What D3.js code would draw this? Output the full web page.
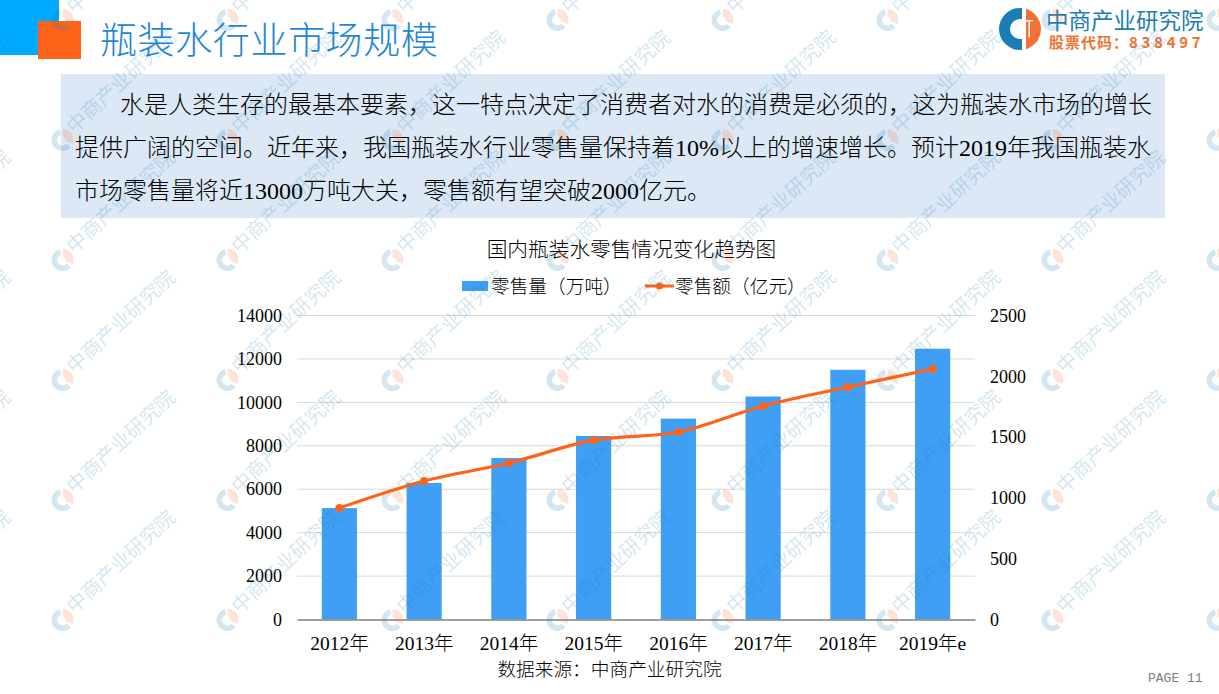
<!DOCTYPE html>
<html>
<head>
<meta charset="utf-8">
<script src="https://cdn.jsdelivr.net/npm/d3@7"></script>
<style>
  html, body { margin: 0; padding: 0; background: #fff; }
  svg { display: block; }
  text { font-family: "Liberation Serif", "Noto Sans CJK SC", serif; font-weight: 300; fill: #000; }
</style>
</head>
<body>
<svg id="chart" width="1219" height="694"></svg>
<script>
const years = ["2012年", "2013年", "2014年", "2015年", "2016年", "2017年", "2018年", "2019年e"];
const volume = [5130, 6290, 7440, 8450, 9250, 10270, 11500, 12470];
const revenue = [917, 1139, 1287, 1475, 1542, 1756, 1912, 2060];
const volumeTicks = [0, 2000, 4000, 6000, 8000, 10000, 12000, 14000];
const revenueTicks = [0, 500, 1000, 1500, 2000, 2500];
const paragraph = [
  "水是人类生存的最基本要素，这一特点决定了消费者对水的消费是必须的，这为瓶装水市场的增长",
  "提供广阔的空间。近年来，我国瓶装水行业零售量保持着10%以上的增速增长。预计2019年我国瓶装水",
  "市场零售量将近13000万吨大关，零售额有望突破2000亿元。"
];

const svg = d3.select("#chart");

// page furniture
svg.append("rect").attr("x", 0).attr("y", 0).attr("width", 59).attr("height", 55).attr("fill", "#00aaff");
svg.append("rect").attr("x", 38).attr("y", 21).attr("width", 43).attr("height", 38).attr("fill", "#ff6319");
svg.append("text").attr("x", 100).attr("y", 54).attr("font-size", 37).style("letter-spacing", "0.6px")
  .style("fill", "#1f86d8").text("瓶装水行业市场规模");

svg.append("rect").attr("x", 61).attr("y", 74).attr("width", 1104).attr("height", 144).attr("fill", "#dce8f5");
svg.selectAll(".para").data(paragraph).join("text")
  .attr("class", "para")
  .attr("x", (d, i) => i === 0 ? 120 : 75)
  .attr("y", (d, i) => 113 + i * 43)
  .attr("font-size", 24)
  .each(function (d) {
    // digits come out too heavy at weight 300, so they get their own tspans
    d.match(/[0-9%]+|[^0-9%]+/g).forEach(run => {
      d3.select(this).append("tspan")
        .style("font-weight", /[0-9]/.test(run) ? 400 : 300)
        .text(run);
    });
  });

// company logo, top right
const arc = d3.arc();
const defs = svg.append("defs");
defs.append("clipPath").attr("id", "logoRight")
  .append("rect").attr("x", 6).attr("y", -21).attr("width", 16).attr("height", 42);
const logo = svg.append("g").attr("transform", "translate(1020,29)");
logo.append("path").attr("fill", "#1b7db5")
  .attr("d", arc({ innerRadius: 10, outerRadius: 21, startAngle: Math.PI, endAngle: 2 * Math.PI }));
logo.append("rect").attr("x", 0).attr("y", -21).attr("width", 2).attr("height", 11).attr("fill", "#1b7db5");
logo.append("rect").attr("x", 0).attr("y", 10).attr("width", 2).attr("height", 11).attr("fill", "#1b7db5");
logo.append("path").attr("fill", "#f27234").attr("clip-path", "url(#logoRight)")
  .attr("d", arc({ innerRadius: 0, outerRadius: 21, startAngle: 0, endAngle: Math.PI }));
logo.append("rect").attr("x", 6).attr("y", -9).attr("width", 7).attr("height", 1.5).attr("fill", "#fff");
logo.append("rect").attr("x", 8.5).attr("y", -7.5).attr("width", 1.5).attr("height", 16).attr("fill", "#fff");
svg.append("text").attr("x", 1046).attr("y", 29).attr("font-size", 22.5).style("fill", "#1b7db5")
  .style("font-family", "'Noto Sans CJK SC'").style("font-weight", 400).text("中商产业研究院");
const stock = svg.append("text").attr("x", 1049).attr("y", 48).attr("font-size", 15)
  .style("fill", "#f27234").style("font-weight", 700)
  .style("font-family", "'Noto Sans CJK SC'");
stock.append("tspan").style("letter-spacing", "1px").text("股票代码：");
stock.append("tspan").style("letter-spacing", "3.7px").text("838497");

// chart
const plotLeft = 297, plotRight = 975, plotTop = 315.5, plotBottom = 619.5;

const xScale = d3.scaleBand().domain(years).range([plotLeft, plotRight]).paddingInner(0.585).paddingOuter(0.2925);
const yLeft = d3.scaleLinear().domain([0, 14000]).range([plotBottom, plotTop]);
const yRight = d3.scaleLinear().domain([0, 2500]).range([plotBottom, plotTop]);

svg.append("text").attr("x", 631.5).attr("y", 257).attr("text-anchor", "middle").attr("font-size", 20.7)
  .text("国内瓶装水零售情况变化趋势图");

// gridlines
svg.append("g").selectAll("line").data(volumeTicks.slice(1)).join("line")
  .attr("x1", plotLeft).attr("x2", plotRight)
  .attr("y1", d => yLeft(d)).attr("y2", d => yLeft(d))
  .attr("stroke", "#d9d9d9").attr("stroke-width", 1);

// bars
svg.append("g").selectAll("rect").data(volume).join("rect")
  .attr("x", (d, i) => xScale(years[i]))
  .attr("y", d => yLeft(d))
  .attr("width", xScale.bandwidth())
  .attr("height", d => plotBottom - yLeft(d))
  .attr("fill", "#3f9ff5");

// axes
const axisLeft = svg.append("g").attr("transform", `translate(${plotLeft - 15},0)`)
  .call(d3.axisLeft(yLeft).tickValues(volumeTicks).tickSize(0).tickPadding(0).tickFormat(d3.format("d")));
const axisRight = svg.append("g").attr("transform", `translate(${plotRight + 15},0)`)
  .call(d3.axisRight(yRight).tickValues(revenueTicks).tickSize(0).tickPadding(0).tickFormat(d3.format("d")));
const axisBottom = svg.append("g").attr("transform", `translate(0,${plotBottom})`)
  .call(d3.axisBottom(xScale).tickSize(0).tickPadding(17));
[axisLeft, axisRight, axisBottom].forEach(a => {
  a.selectAll("text").attr("font-size", 18).style("font-family", "'Liberation Serif','Noto Sans CJK SC',serif");
});
axisBottom.selectAll("text").attr("font-size", 19.5);
axisLeft.select(".domain").remove();
axisRight.select(".domain").remove();
axisBottom.select(".domain").attr("stroke", "#808080").attr("stroke-width", 1.5);

// legend
const legend = svg.append("g");
legend.append("rect").attr("x", 462).attr("y", 281).attr("width", 26).attr("height", 10).attr("fill", "#3f9ff5");
legend.append("text").attr("x", 491).attr("y", 293).attr("font-size", 18.7).text("零售量（万吨）");
legend.append("line").attr("x1", 645).attr("x2", 674).attr("y1", 286).attr("y2", 286)
  .attr("stroke", "#ff6319").attr("stroke-width", 3);
legend.append("circle").attr("cx", 659.5).attr("cy", 286).attr("r", 3.5).attr("fill", "#ff6319");
legend.append("text").attr("x", 675).attr("y", 293).attr("font-size", 18.7).text("零售额（亿元）");

svg.append("text").attr("x", 609.5).attr("y", 676).attr("text-anchor", "middle").attr("font-size", 18.7)
  .text("数据来源：中商产业研究院");
svg.append("text").attr("x", 1148).attr("y", 682).attr("font-size", 13)
  .style("font-family", "'Liberation Mono',monospace").style("fill", "#7f7f7f").text("PAGE 11");

// watermark tiled over the page, line goes on top of it
const markCols = d3.range(-1, 8).map(i => 62.5 + i * 165);
const markRows = d3.range(0, 6).map(i => 20 + i * 120);
const marks = svg.append("g").attr("opacity", 0.19).style("pointer-events", "none");
markRows.forEach(my => markCols.forEach(mx => {
  const m = marks.append("g").attr("transform", `translate(${mx},${my})`);
  m.append("path").attr("fill", "#1b7db5")
    .attr("d", arc({ innerRadius: 5.5, outerRadius: 11, startAngle: 2.3, endAngle: 2 * Math.PI - 0.25 }));
  m.append("path").attr("fill", "#f27234")
    .attr("d", arc({ innerRadius: 3, outerRadius: 11, startAngle: 0, endAngle: 1.95 }));
  m.append("text").attr("transform", "translate(12,-5.5) rotate(-43)")
    .attr("font-size", 20)
    .style("font-family", "'Noto Sans CJK SC'").style("font-weight", 400).style("fill", "#1b7db5")
    .text("中商产业研究院");
}));

// line
const line = d3.line()
  .x((d, i) => xScale(years[i]) + xScale.bandwidth() / 2)
  .y(d => yRight(d))
  .curve(d3.curveCatmullRom.alpha(0.5));
svg.append("path").attr("d", line(revenue)).attr("fill", "none")
  .attr("stroke", "#ff6319").attr("stroke-width", 3.2);
svg.append("g").selectAll("circle").data(revenue).join("circle")
  .attr("cx", (d, i) => xScale(years[i]) + xScale.bandwidth() / 2)
  .attr("cy", d => yRight(d))
  .attr("r", 4)
  .attr("fill", "#ff6319");
</script>
</body>
</html>
